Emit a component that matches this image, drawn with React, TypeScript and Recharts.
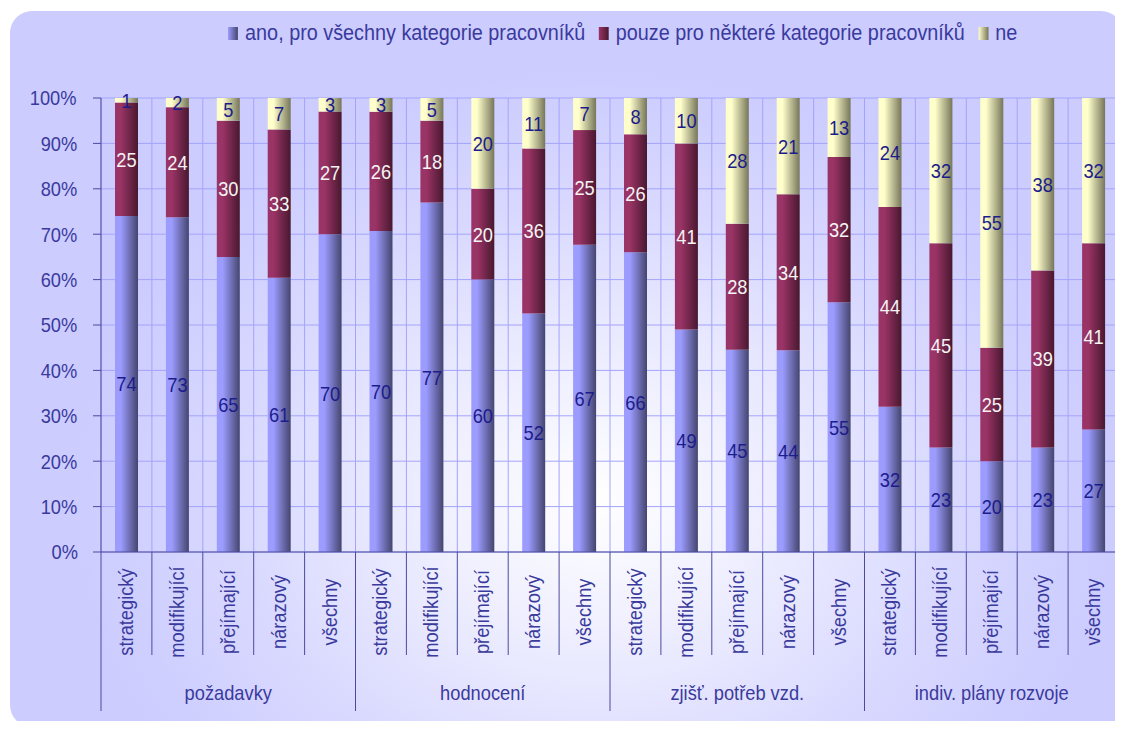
import {
  BarChart,
  Bar,
  XAxis,
  YAxis,
  CartesianGrid,
  LabelList,
  Legend,
} from 'recharts';

const categories = ['strategický', 'modifikující', 'přejímající', 'nárazový', 'všechny'];
const groups = ['požadavky', 'hodnocení', 'zjišť. potřeb vzd.', 'indiv. plány rozvoje'];

// share of answers per category, in %
const anoValues = [74, 73, 65, 61, 70, 70, 77, 60, 52, 67, 66, 49, 45, 44, 55, 32, 23, 20, 23, 27];
const pouzeValues = [25, 24, 30, 33, 27, 26, 18, 20, 36, 25, 26, 41, 28, 34, 32, 44, 45, 25, 39, 41];
const neValues = [1, 2, 5, 7, 3, 3, 5, 20, 11, 7, 8, 10, 28, 21, 13, 24, 32, 55, 38, 32];

const seriesNames = [
  'ano, pro všechny kategorie pracovníků',
  'pouze pro některé kategorie pracovníků',
  'ne',
];
const yTicks = [0, 10, 20, 30, 40, 50, 60, 70, 80, 90, 100];

const FONT = "'Liberation Sans', Arial, sans-serif";
const TEXT = '#3a3a9c';
const AXIS = '#4a4a9e';
const GRID = '#a4a4fb';
const SQUEEZE = 0.87; // narrow look of the labels
const gradients = [
  { id: 'gAno', from: '#9c9cff', to: '#45456f' },
  { id: 'gPouze', from: '#9b3466', to: '#48182f' },
  { id: 'gNe', from: '#ffffcc', to: '#76765a' },
];

const data = groups.flatMap((group, gi) =>
  categories.map((name, ci) => {
    const i = gi * categories.length + ci;
    return { name, group, ano: anoValues[i], pouze: pouzeValues[i], ne: neValues[i] };
  })
);

function CategoryTick(props: any) {
  const { x, y, payload } = props;
  const i: number = payload.index;
  const half: number = payload.offset || 25.45;
  const n = categories.length;
  const row = data[i];
  return (
    <g>
      <line x1={x - half} y1={y} x2={x - half} y2={y + (i % n === 0 ? 159 : 103)} stroke={AXIS} />
      {i === data.length - 1 && (
        <line x1={x + half} y1={y} x2={x + half} y2={y + 159} stroke={AXIS} />
      )}
      <text
        className="own"
        transform={`translate(${x - 1} ${y + 60}) rotate(-90) scale(${SQUEEZE} 1)`}
        textAnchor="middle"
        dominantBaseline="central"
        fill={TEXT}
        fontSize={21}
      >
        {row.name}
      </text>
      {i % n === 2 && (
        <text
          className="own"
          transform={`translate(${x} ${y + 141}) scale(${SQUEEZE} 1)`}
          textAnchor="middle"
          dominantBaseline="central"
          fill={TEXT}
          fontSize={21}
        >
          {row.group}
        </text>
      )}
    </g>
  );
}

function LegendBox() {
  return (
    <div
      style={{
        display: 'flex',
        alignItems: 'center',
        fontSize: 22,
        color: TEXT,
        whiteSpace: 'nowrap',
        transform: 'scaleX(0.9)',
        transformOrigin: 'left center',
      }}
    >
      {seriesNames.map((label, k) => (
        <span key={label} style={{ display: 'flex', alignItems: 'center', marginRight: 15 }}>
          <span
            style={{
              display: 'inline-block',
              width: 11,
              height: 13,
              marginRight: 8,
              background: `linear-gradient(to right, ${gradients[k].from}, ${gradients[k].to})`,
            }}
          />
          {label}
        </span>
      ))}
    </div>
  );
}

export default function App() {
  return (
    <div
      className="bar-chart"
      style={{ position: 'relative', width: 1123, height: 729, margin: -8, fontFamily: FONT, overflow: 'hidden' }}
    >
      <style>{`
        .bar-chart svg text:not(.own) { transform: scaleX(${SQUEEZE}); transform-box: fill-box; transform-origin: 50% 50%; }
        .bar-chart .recharts-yAxis text { transform-origin: 100% 50%; }
      `}</style>
      <div
        style={{
          position: 'absolute',
          left: 10,
          top: 11,
          width: 1113,
          height: 716,
          borderRadius: 22,
          background:
            'radial-gradient(ellipse 520px 430px at 585px 490px, #ffffff 0%, #f2f2ff 25%, #d8d8ff 70%, #ccccff 100%)',
        }}
      />
      <div style={{ position: 'absolute', left: 0, top: 0 }}>
        <BarChart
          width={1123}
          height={729}
          data={data}
          stackOffset="expand"
          barSize={23}
          margin={{ top: 98, right: 4, left: 41, bottom: 0 }}
        >
          <defs>
            {gradients.map((g) => (
              <linearGradient key={g.id} id={g.id} x1="0" y1="0" x2="1" y2="0">
                <stop offset="0%" stopColor={g.from} />
                <stop offset="25%" stopColor={g.from} />
                <stop offset="100%" stopColor={g.to} />
              </linearGradient>
            ))}
          </defs>
          <CartesianGrid vertical={false} stroke={GRID} />
          <CartesianGrid
            horizontal={false}
            stroke={GRID}
            verticalCoordinatesGenerator={({ offset }: any) =>
              Array.from({ length: data.length + 1 }, (_, k) => offset.left + (k * offset.width) / data.length)
            }
          />
          <XAxis
            dataKey="name"
            height={177}
            interval={0}
            tickSize={0}
            tickMargin={0}
            tickLine={false}
            axisLine={{ stroke: AXIS }}
            tick={<CategoryTick />}
          />
          <YAxis
            width={60}
            domain={[0, 1]}
            ticks={yTicks.map((t) => t / 100)}
            tickFormatter={(v: number) => `${Math.round(v * 100)}%`}
            tickSize={8}
            tickMargin={13}
            axisLine={{ stroke: AXIS }}
            tickLine={{ stroke: AXIS }}
            tick={{ fill: TEXT, fontSize: 21 }}
          />
          <Legend
            verticalAlign="middle"
            align="center"
            layout="horizontal"
            wrapperStyle={{ top: 20, left: 228, width: 900 }}
            content={() => <LegendBox />}
          />
          <Bar dataKey="ano" name={seriesNames[0]} stackId="a" fill="url(#gAno)" isAnimationActive={false}>
            <LabelList dataKey="ano" position="center" fill="#1c1c8c" fontSize={21} />
          </Bar>
          <Bar dataKey="pouze" name={seriesNames[1]} stackId="a" fill="url(#gPouze)" isAnimationActive={false}>
            <LabelList dataKey="pouze" position="center" fill="#f4f4f4" fontSize={21} />
          </Bar>
          <Bar dataKey="ne" name={seriesNames[2]} stackId="a" fill="url(#gNe)" isAnimationActive={false}>
            <LabelList dataKey="ne" position="center" fill="#1c1c8c" fontSize={21} />
          </Bar>
        </BarChart>
      </div>
    </div>
  );
}
